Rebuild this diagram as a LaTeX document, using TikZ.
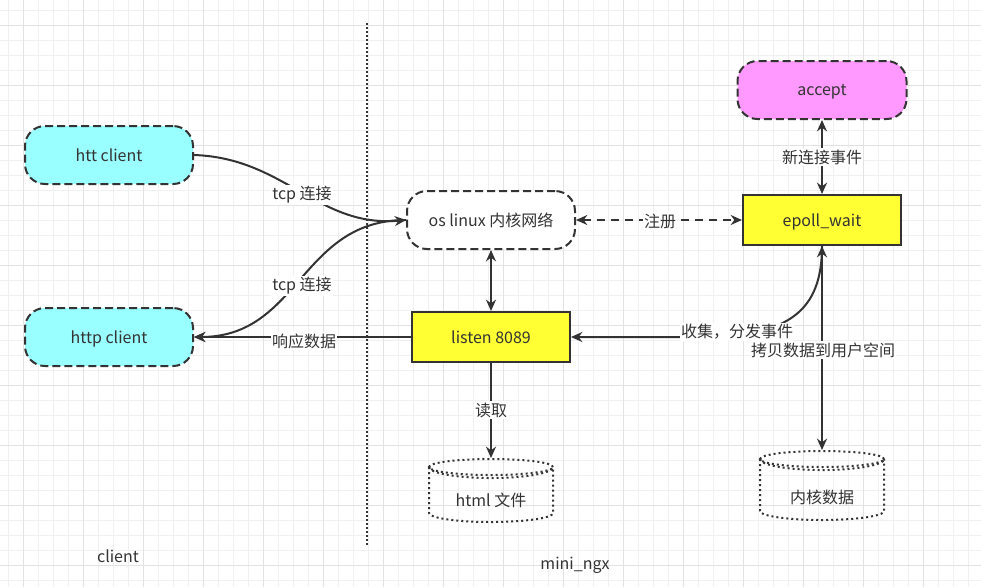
\documentclass[tikz,border=0pt]{standalone}
\usepackage{fontspec}
\setmainfont{Noto Sans CJK SC}
\usetikzlibrary{arrows.meta}
\definecolor{txt}{HTML}{333333}
\definecolor{cyanfill}{HTML}{99FFFF}
\definecolor{pinkfill}{HTML}{FF99FF}
\definecolor{yelfill}{HTML}{FFFF33}
\definecolor{gridminor}{HTML}{F0F0F0}
\definecolor{gridmajor}{HTML}{E2E2E2}
\begin{document}
\begin{tikzpicture}[x=0.75pt,y=-0.75pt,
  font=\fontsize{12}{14}\selectfont, text=txt,
  ln/.style={draw=txt, line width=1.5pt},
  tip/.tip={Stealth[length=8.5pt,width=7.5pt]},
  arr/.style={ln, -tip},
  darr/.style={ln, tip-tip},
  rbox/.style={draw=txt, line width=1.5pt, dash pattern=on 6pt off 3pt, rounded corners=15pt,
    minimum width=126pt, minimum height=43.5pt, inner sep=0pt, text depth=0pt},
  sbox/.style={draw=txt, line width=1.5pt, fill=yelfill, minimum width=118.5pt, minimum height=37.5pt, inner sep=0pt, text depth=0pt},
  lbl/.style={fill=white, inner sep=1pt},
  dotst/.style={draw=txt, line width=1.5pt, dash pattern=on 1.5pt off 2.25pt}]
\useasboundingbox (0,0) rectangle (981,587);
\fill[white] (0,0) rectangle (981,587);
% grid
\foreach \x in {8,23,...,980} \draw[gridminor, line width=0.75pt] (\x,0) -- (\x,587);
\foreach \y in {10,25,...,586} \draw[gridminor, line width=0.75pt] (0,\y) -- (981,\y);
\foreach \x in {23,83,...,980} \draw[gridmajor, line width=0.75pt] (\x,0) -- (\x,587);
\foreach \y in {25,85,...,586} \draw[gridmajor, line width=0.75pt] (0,\y) -- (981,\y);
% divider
\draw[draw=txt, line width=1.5pt, dash pattern=on 1.5pt off 1.5pt] (367,23) -- (367,545);
% nodes
\node[rbox, fill=cyanfill] (htt) at (109,155) {htt client};
\node[rbox, fill=cyanfill] (http) at (109,337) {http client};
\node[rbox, fill=white] (os) at (491,220) {os linux 内核网络};
\node[rbox, fill=pinkfill, minimum width=126.75pt] (accept) at (822,90) {accept};
\node[sbox] (epoll) at (822,220) {epoll\_wait};
\node[sbox] (listen) at (491,337) {listen 8089};
% cylinders
\draw[dotst] (491,467) ellipse [x radius=46.5pt, y radius=6pt];
\draw[dotst] (429,467) arc[start angle=180, end angle=360, x radius=46.5pt, y radius=8.25pt];
\draw[dotst] (429,467) -- (429,513) arc[start angle=180, end angle=360, x radius=46.5pt, y radius=6.75pt] -- (553,467);
\node (html) at (491,500) {html 文件};
\coordinate (htmltop) at (491,458);
\draw[dotst] (822,459) ellipse [x radius=46.5pt, y radius=6pt];
\draw[dotst] (760,459) arc[start angle=180, end angle=360, x radius=46.5pt, y radius=8.25pt];
\draw[dotst] (760,459) -- (760,511) arc[start angle=180, end angle=360, x radius=46.5pt, y radius=6.75pt] -- (884,459);
\node (kdata) at (822,497) {内核数据};
\coordinate (ktop) at (822,450);
% edges
\draw[arr] (htt.east) .. controls (285,158) and (318,228) .. (os.west);
\draw[arr] (os.west) .. controls (300,220) and (300,337) .. (http.east);
\draw[arr] (listen.west) -- (http.east);
\draw[darr] (os.south) -- (listen.north);
\draw[darr, dash pattern=on 6pt off 4.5pt] (os.east) -- (epoll.west);
\draw[darr] (epoll.north) -- (accept.south);
\draw[arr] (epoll.south) .. controls (822,310) and (790,337) .. (700,337) -- (listen.east);
\draw[darr] (epoll.south) -- (ktop);
\draw[arr] (listen.south) -- (htmltop);
% labels
\node[lbl] (l1) at (302,195) {tcp 连接};
\node[lbl] (l2) at (302,286) {tcp 连接};
\node[lbl] (l3) at (304,341) {响应数据};
\node[lbl] (l4) at (660,221) {注册};
\node[lbl] (l5) at (822,157) {新连接事件};
\node[lbl] (l6) at (737,332) {收集，分发事件};
\node[lbl] (l7) at (823,350) {拷贝数据到用户空间};
\node[lbl] (l8) at (491,410) {读取};
\node (client) at (118,556) {client};
\node (mini) at (575,565) {mini\_ngx};
\end{tikzpicture}
\end{document}
